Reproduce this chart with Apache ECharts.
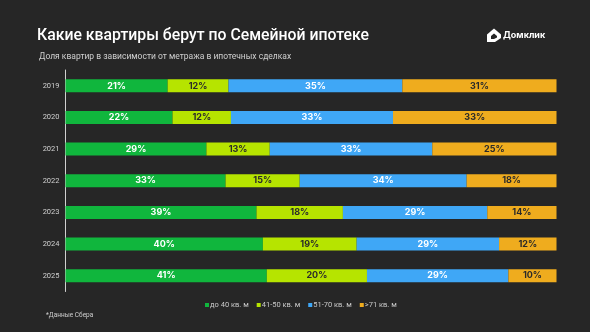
<!DOCTYPE html>
<html><head><meta charset="utf-8">
<script src="https://cdn.jsdelivr.net/npm/echarts@6/dist/echarts.min.js"></script>
<style>html,body{margin:0;padding:0;background:#262626;}#c{width:590px;height:332px;}</style>
</head><body><div id="c"></div>
<script>
var years = ['2019','2020','2021','2022','2023','2024','2025'];
var seriesNames = ['до 40 кв. м','41-50 кв. м','51-70 кв. м','>71 кв. м'];
// shares measured from bar widths (percent of full bar)
var upTo40 = [20.8, 21.8, 28.7, 32.6, 38.9, 40.2, 41.0];
var from41to50 = [12.4, 11.9, 12.9, 15.1, 17.6, 19.1, 20.4];
var from51to70 = [35.4, 33.0, 33.1, 34.0, 29.4, 29.0, 28.8];
var over71 = [31.4, 33.3, 25.3, 18.3, 14.1, 11.7, 9.8];
var colors = ['#10b63d', '#b6e400', '#3fa7f6', '#efac1e'];
var labelColors = ['#ffffff', '#2a2a2a', '#ffffff', '#2a2a2a'];
var dataSets = [upTo40, from41to50, from51to70, over71];

var chart = echarts.init(document.getElementById('c'), null, {renderer:'canvas'});
var series = dataSets.map(function(d, i){
  return {
    name: seriesNames[i], type: 'bar', stack: 'total', barWidth: 13,
    data: d, itemStyle: {color: colors[i]},
    label: {show: true, position: 'inside', color: labelColors[i], fontSize: 9, fontWeight: 'bold',
      fontFamily: 'Inter', formatter: function(p){ return Math.round(p.value) + '%'; }}
  };
});
chart.setOption({
  backgroundColor: '#262626',
  animation: false,
  title: [
    {text: 'Какие квартиры берут по Семейной ипотеке', left: 32, top: 23,
     textStyle: {color: '#ffffff', fontSize: 15.8, fontWeight: 500, fontFamily: 'Roboto'}},
    {text: 'Доля квартир в зависимости от метража в ипотечных сделках', left: 34, top: 47,
     textStyle: {color: '#cfcfcf', fontSize: 8.5, fontWeight: 'normal', fontFamily: 'Roboto'}},
    {text: '*Данные Сбера', left: 41, top: 307,
     textStyle: {color: '#cfcfcf', fontSize: 6.5, fontWeight: 'normal', fontFamily: 'Roboto'}}
  ],
  legend: {
    data: seriesNames, left: 200, top: 296, itemWidth: 4, itemHeight: 4, itemGap: 8,
    icon: 'rect', textStyle: {color: '#c8c8c8', fontSize: 7.5, fontFamily: 'Roboto', padding: [0,0,0,-4]}
  },
  grid: {left: 65.5, right: 33.5, top: 70, bottom: 40.5, containLabel: false},
  xAxis: {type: 'value', min: 0, max: 100, show: false},
  yAxis: {type: 'category', data: years, inverse: true,
    axisLine: {show: true, lineStyle: {color: '#d0d0d0', width: 1}},
    axisTick: {show: false}, splitLine: {show: false},
    axisLabel: {color: '#d0d0d0', fontSize: 7.5, margin: 6, fontFamily: 'Roboto'}},
  series: series,
  graphic: [
    {type: 'polygon', shape: {points: [[487,34.5],[494,28.5],[501,34.5],[501,38],[495,42],[487,42]]},
     style: {fill: '#ffffff'}},
    {type: 'polygon', shape: {points: [[491,36],[494,33.5],[497,36],[497,37.5],[494,39],[491,39]]},
     style: {fill: '#262626'}},
    {type: 'text', left: 503, top: 31,
     style: {text: 'Домклик', fill: '#ffffff', font: 'bold 9px Inter'}}
  ]
});
</script></body></html>
